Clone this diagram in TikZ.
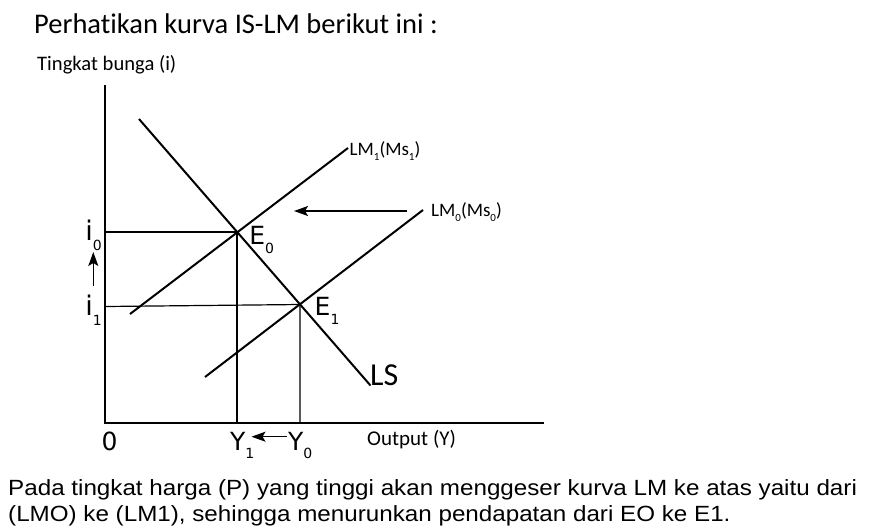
\documentclass[tikz,border=0pt]{standalone}
\usepackage{fontspec}
\setmainfont{Carlito}[Ligatures=NoCommon]
\newfontfamily\dvs{DejaVu Sans}
\newfontfamily\arialf{Liberation Sans}
\usetikzlibrary{arrows.meta}
\newcommand\lsub[2]{\raisebox{-#1}{\fontsize{14}{14}\selectfont #2}}
\newcommand\csub[1]{\raisebox{-5pt}{\fontsize{11}{11}\selectfont #1}}
\begin{document}
\begin{tikzpicture}[x=1pt,y=-1pt,
  axis/.style={line width=2.7pt},
  curve/.style={line width=2pt},
  guide/.style={line width=1.2pt},
  shiftarr/.style={line width=1.5pt,-{Stealth[length=14pt,width=10pt,inset=3pt]}},
  txt/.style={inner sep=0pt,anchor=base west},
  sym/.style={txt,font=\dvs\fontsize{25}{25}\selectfont},
  clbl/.style={txt,font=\fontsize{19}{19}\selectfont},
  note/.style={txt,font=\arialf\fontsize{22}{22}\selectfont}]
\useasboundingbox (0,0) rectangle (874,531);
% coordinates
\coordinate (O) at (105,423);
\coordinate (ytop) at (105,85);
\coordinate (xend) at (544,423);
\coordinate (E0) at (237,232);
\coordinate (E1) at (300,304.5);
\coordinate (i0p) at (105,232);
\coordinate (i1p) at (105,306.5);
\coordinate (Y1p) at (237,423);
\coordinate (Y0p) at (300,423);
\coordinate (ISa) at (139,119);
\coordinate (ISb) at (370.5,385.5);
\coordinate (LM1a) at (130,314);
\coordinate (LM1b) at (348,148);
\coordinate (LM0a) at (205,377);
\coordinate (LM0b) at (423,210);
\coordinate (sa) at (407,211);
\coordinate (sb) at (294,211);
\coordinate (ia) at (93.3,286);
\coordinate (ib) at (93.3,252);
\coordinate (ya) at (287,436.7);
\coordinate (yb) at (251.5,436.7);
% axes
\draw[axis] (ytop) -- (O) -- (xend);
% guides
\draw[guide] (i0p) -- (E0) -- (Y1p);
\draw[guide] (i1p) -- (E1) -- (Y0p);
% curves
\draw[curve] (ISa) -- (ISb);
\draw[curve] (LM1a) -- (LM1b);
\draw[curve] (LM0a) -- (LM0b);
% arrows
\draw[shiftarr] (sa) -- (sb);
\draw[shiftarr] (ia) -- (ib);
\draw[shiftarr] (ya) -- (yb);
% texts
\node[txt,font=\fontsize{28.5}{28.5}\selectfont] (title) at (34,33) {Perhatikan kurva IS-LM berikut ini :};
\node[txt,font=\fontsize{20.6}{20.6}\selectfont] (ylab) at (37,70) {Tingkat bunga (i)};
\node[txt,font=\dvs\fontsize{27}{27}\selectfont] (i0) at (85.2,240) {i\lsub{10pt}{0}};
\node[txt,font=\dvs\fontsize{27}{27}\selectfont] (i1) at (85.2,315) {i\lsub{10pt}{1}};
\node[sym] (E0l) at (249.2,244) {E\lsub{9pt}{0}};
\node[sym] (E1l) at (314.5,315) {E\lsub{9pt}{1}};
\node[sym] (zero) at (101.5,450) {0};
\node[sym] (Y1l) at (230,450) {Y\lsub{8pt}{1}};
\node[sym] (Y0l) at (288,450) {Y\lsub{8pt}{0}};
\node[clbl] (LM1l) at (349.5,155) {LM\csub{1}(Ms\csub{1})};
\node[clbl] (LM0l) at (431,216) {LM\csub{0}(Ms\csub{0})};
\node[txt,font=\fontsize{32}{32}\selectfont] (LSl) at (370,385.7) {LS};
\node[txt,font=\fontsize{21}{21}\selectfont] (outl) at (367,445) {Output (Y)};
\node[note] (line1) at (8,495) {\scalebox{1.1}[1]{Pada tingkat harga (P) yang tinggi akan menggeser kurva LM ke atas yaitu dari}};
\node[note] (line2) at (8,521) {\scalebox{1.1}[1]{(LMO) ke (LM1), sehingga menurunkan pendapatan dari EO ke E1.}};
\end{tikzpicture}
\end{document}
